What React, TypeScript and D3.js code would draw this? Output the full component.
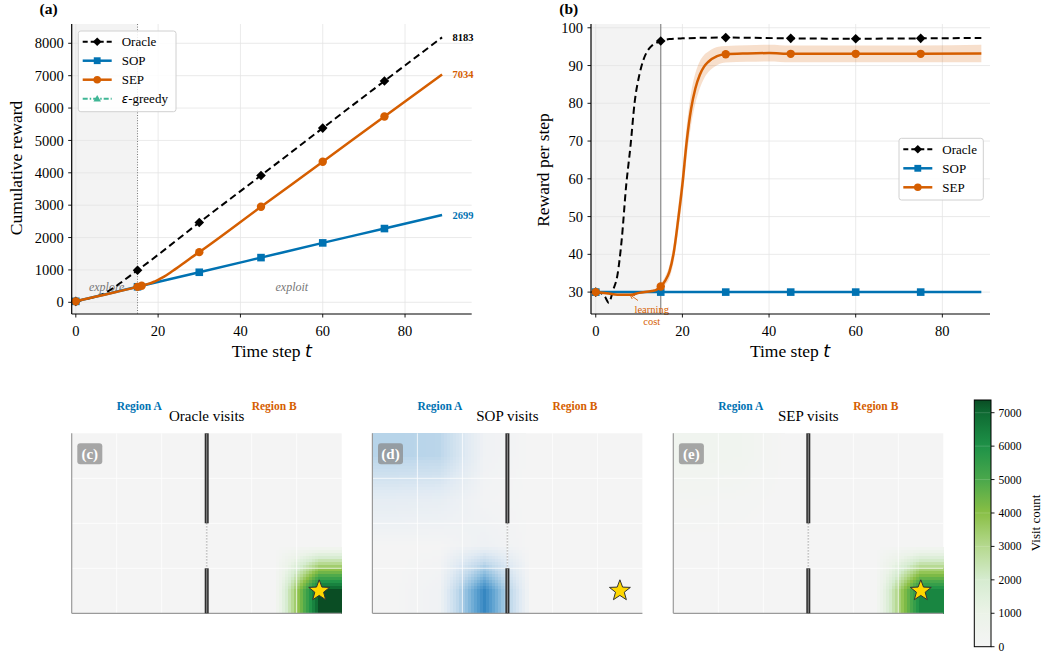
import React from 'react';
import * as d3 from 'd3';

const FONT = '"Liberation Serif", "Times New Roman", Times, serif';
const C_ORACLE = '#000000';
const C_SOP = '#0072B2';
const C_SEP = '#D55E00';
const C_EPS = '#009E73';

// ---------- Panel (a): cumulative reward ----------
const oracleCumT = [0, 1, 2, 3, 4, 5, 6, 7, 8, 9, 10, 11, 12, 13, 14, 15, 30, 45, 60, 75, 89];
const oracleCumV = [30, 59, 87, 114, 145, 180, 224, 282, 351, 434, 521, 613, 707, 802, 898, 990, 2464, 3918, 5381, 6835, 8183];
const sopCumT = [0, 15, 30, 45, 60, 75, 89];
const sopCumV = [30, 480, 928, 1381, 1835, 2278, 2699];
const sepCumT = [0, 5, 10, 15, 16, 17, 18, 19, 20, 21, 22, 23, 24, 25, 26, 28, 30, 45, 60, 75, 89];
const sepCumV = [30, 178, 325, 478, 511, 546, 586, 635, 690, 760, 838, 922, 1010, 1099, 1190, 1375, 1550, 2950, 4340, 5740, 7034];
const markT = [0, 15, 30, 45, 60, 75];
const sepMarkTA = [0, 15, 16, 30, 45, 60, 75];
const aYTicks = [0, 1000, 2000, 3000, 4000, 5000, 6000, 7000, 8000];
const xTicks = [0, 20, 40, 60, 80];
const finalLabels = [
  { text: '8183', v: 8183, color: C_ORACLE },
  { text: '7034', v: 7034, color: C_SEP },
  { text: '2699', v: 2699, color: C_SOP },
];

// ---------- Panel (b): reward per step ----------
const oracleStepT = [0, 1, 2, 3, 4, 5, 6, 7, 8, 9, 10, 11, 12, 13, 14, 15, 17, 20, 30, 45, 60, 75, 89];
const oracleStepV = [30, 29.8, 29, 27.2, 30.5, 34.5, 44, 58, 68.5, 80.5, 87.2, 91.5, 94, 95.3, 96, 96.5, 97, 97.2, 97.4, 97.2, 97.1, 97.2, 97.3];
const sopStepT = [0, 15, 30, 45, 60, 75, 89];
const sopStepV = [30, 30, 30, 30, 30, 30, 30];
const sepStepT = [0, 3, 5, 8, 10, 13, 14, 15, 16, 17, 18, 19, 20, 21, 22, 23, 24, 25, 26, 28, 30, 35, 40, 45, 60, 75, 89];
const sepStepV = [30, 29.6, 29.3, 29.3, 29.8, 30.3, 30.6, 31.5, 33, 35.4, 40.5, 49, 58.5, 70, 78.5, 84, 87.5, 89.7, 91, 92.5, 93, 93.2, 93.3, 93.1, 93.1, 93.1, 93.2];
const sepStepSd = [0.3, 0.3, 0.3, 0.3, 0.3, 0.3, 0.4, 0.7, 1.1, 1.7, 2.4, 3.3, 3.8, 4.2, 4.3, 4, 3.6, 3.1, 2.7, 2.4, 2.2, 2.2, 2.2, 2.2, 2.2, 2.2, 2.3];
const bYTicks = [30, 40, 50, 60, 70, 80, 90, 100];

// ---------- Heatmaps (6 x 4 grid of visit counts) ----------
const oracleVisits = [
  [0, 0, 0, 0, 0, 0],
  [0, 0, 0, 0, 0, 0],
  [0, 0, 0, 0, 0, 0],
  [0, 0, 0, 0, 0, 7380],
];
const sopVisits = [
  [2500, 2400, 250, 0, 0, 0],
  [800, 700, 100, 0, 0, 0],
  [0, 0, 350, 0, 0, 0],
  [0, 250, 5400, 0, 0, 0],
];
const sepVisits = [
  [450, 400, 0, 0, 0, 0],
  [150, 100, 0, 0, 0, 0],
  [0, 0, 0, 0, 0, 0],
  [0, 0, 0, 0, 0, 6300],
];
const cbTicks = [0, 1000, 2000, 3000, 4000, 5000, 6000, 7000];
const VMAX = 7380;

const greenStops = [
  [0, '#f4f4f4'], [0.1355, '#ebf3e8'], [0.271, '#d6ecd0'], [0.4065, '#b5d98f'],
  [0.542, '#8abf45'], [0.6775, '#4aa84b'], [0.813, '#1e9248'], [0.9485, '#0e6a32'], [1, '#0a4d24'],
];
const blueStops = [
  [0, '#f4f4f4'], [0.15, '#e0eaf3'], [0.3, '#c3daec'], [0.45, '#93c1e0'],
  [0.6, '#5ea2d1'], [0.75, '#3183bf'], [1, '#0b4a8a'],
];
const makeCmap = (stops: any[]) =>
  d3.scaleLinear<string>()
    .domain(stops.map((s) => s[0] * VMAX))
    .range(stops.map((s) => s[1]))
    .interpolate(d3.interpolateRgb)
    .clamp(true);
const greens = makeCmap(greenStops);
const blues = makeCmap(blueStops);

// ---------- scales ----------
const xA = d3.scaleLinear().domain([-1, 96.2]).range([71.7, 471.7]);
const yA = d3.scaleLinear().domain([-361, 8596]).range([314, 24]);
const xB = d3.scaleLinear().domain([-1.1, 91]).range([591, 990]);
const yB = d3.scaleLinear().domain([24.2, 101]).range([314, 24]);

const diamond = (cx: number, cy: number, r: number) =>
  `M${cx},${cy - r}L${cx + r},${cy}L${cx},${cy + r}L${cx - r},${cy}Z`;

function Marker({ kind, x, y, color, s = 1 }: any) {
  if (kind === 'diamond') return <path d={diamond(x, y, 4.8 * s)} fill={color} />;
  if (kind === 'square') return <rect x={x - 3.8 * s} y={y - 3.8 * s} width={7.6 * s} height={7.6 * s} fill={color} />;
  if (kind === 'circle') return <circle cx={x} cy={y} r={4.2 * s} fill={color} />;
  const r = 4.2 * s;
  return <path d={`M${x},${y - r}L${x + r},${y + r * 0.75}L${x - r},${y + r * 0.75}Z`} fill={color} />;
}

function Series({ T, V, xs, ys, color, dash, width, marker, mT }: any) {
  const pts = T.map((t: number, i: number) => [t, V[i]]);
  const line = d3.line<number[]>().x((d) => xs(d[0])).y((d) => ys(d[1])).curve(d3.curveMonotoneX);
  return (
    <g>
      <path d={line(pts) || ''} fill="none" stroke={color} strokeWidth={width} strokeDasharray={dash} />
      {mT.map((t: number) => {
        const i = T.indexOf(t);
        return <Marker key={t} kind={marker} x={xs(t)} y={ys(V[i])} color={color} />;
      })}
    </g>
  );
}

function Grid({ xs, ys, yTicks, left, right, top, bottom }: any) {
  return (
    <g>
      {xTicks.map((t: number) => (
        <line key={'gx' + t} x1={xs(t)} x2={xs(t)} y1={top} y2={bottom} stroke="#e4e4e4" strokeWidth={0.8} />
      ))}
      {yTicks.map((t: number) => (
        <line key={'gy' + t} x1={left} x2={right} y1={ys(t)} y2={ys(t)} stroke="#e4e4e4" strokeWidth={0.8} />
      ))}
    </g>
  );
}

function AxisFrame({ xs, ys, yTicks, left, right, top, bottom }: any) {
  return (
    <g fontFamily={FONT} fontSize={14.5}>
      <line x1={left} x2={left} y1={top} y2={bottom} stroke="#000" strokeWidth={1.2} />
      <line x1={left} x2={right} y1={bottom} y2={bottom} stroke="#000" strokeWidth={1.2} />
      {xTicks.map((t: number) => (
        <g key={'x' + t}>
          <line x1={xs(t)} x2={xs(t)} y1={bottom} y2={bottom + 3.5} stroke="#000" strokeWidth={0.9} />
          <text x={xs(t)} y={bottom + 22} textAnchor="middle">{t}</text>
        </g>
      ))}
      {yTicks.map((t: number) => (
        <g key={'y' + t}>
          <line x1={left - 3.5} x2={left} y1={ys(t)} y2={ys(t)} stroke="#000" strokeWidth={0.9} />
          <text x={left - 8} y={ys(t)} dy="0.35em" textAnchor="end">{t}</text>
        </g>
      ))}
    </g>
  );
}

function Heat({ x0, data, cmap, title, label }: any) {
  const nx = 6, ny = 4, cs = 45, y0 = 433.3;
  const W = nx * cs, H = ny * cs;
  const gx = d3.scaleLinear().domain([-0.5, nx - 0.5]).range([x0, x0 + W]);
  const gy = d3.scaleLinear().domain([-0.5, ny - 0.5]).range([y0, y0 + H]);
  const val = (cx: number, cy: number) => {
    const x = Math.max(0, Math.min(nx - 1, cx));
    const y = Math.max(0, Math.min(ny - 1, cy));
    const i0 = Math.floor(x), j0 = Math.floor(y);
    const i1 = Math.min(i0 + 1, nx - 1), j1 = Math.min(j0 + 1, ny - 1);
    const fx = x - i0, fy = y - j0;
    return data[j0][i0] * (1 - fx) * (1 - fy) + data[j0][i1] * fx * (1 - fy) +
      data[j1][i0] * (1 - fx) * fy + data[j1][i1] * fx * fy;
  };
  const step = 3;
  const rects: any[] = [];
  for (let py = 0; py < H; py += step) {
    for (let px = 0; px < W; px += step) {
      const v = val(gx.invert(x0 + px + step / 2), gy.invert(y0 + py + step / 2));
      if (v < 20) continue;
      rects.push(
        <rect key={px + '_' + py} x={x0 + px} y={y0 + py} width={step + 0.4} height={step + 0.4} fill={cmap(v)} />
      );
    }
  }
  const wx = gx(2.5);
  const starC = [gx(5), gy(3)];
  const starPts = d3.range(10).map((k) => {
    const r = k % 2 === 0 ? 11 : 4.6;
    const a = -Math.PI / 2 + (k * Math.PI) / 5;
    return [starC[0] + r * Math.cos(a), starC[1] + r * Math.sin(a)];
  });
  return (
    <g>
      <text x={x0 + W / 2} y={421} textAnchor="middle" fontFamily={FONT} fontSize={15}>{title}</text>
      <text x={x0 + W / 4} y={410} textAnchor="middle" fontFamily={FONT} fontSize={11.5} fontWeight="bold" fill={C_SOP}>Region A</text>
      <text x={x0 + (3 * W) / 4} y={410} textAnchor="middle" fontFamily={FONT} fontSize={11.5} fontWeight="bold" fill={C_SEP}>Region B</text>
      <rect x={x0} y={y0} width={W} height={H} fill={cmap(0)} />
      <g shapeRendering="crispEdges">{rects}</g>
      {d3.range(1, nx).map((i) => (
        <line key={'v' + i} x1={x0 + i * cs} x2={x0 + i * cs} y1={y0} y2={y0 + H} stroke="#fff" strokeOpacity={0.75} strokeWidth={1} />
      ))}
      {d3.range(1, ny).map((j) => (
        <line key={'h' + j} x1={x0} x2={x0 + W} y1={y0 + j * cs} y2={y0 + j * cs} stroke="#fff" strokeOpacity={0.75} strokeWidth={1} />
      ))}
      <line x1={x0} x2={x0} y1={y0} y2={y0 + H} stroke="#9a9a9a" strokeWidth={1.2} />
      <line x1={x0} x2={x0 + W} y1={y0 + H} y2={y0 + H} stroke="#9a9a9a" strokeWidth={1.2} />
      {/* wall */}
      <line x1={wx} x2={wx} y1={y0 + 2 * cs} y2={y0 + 3 * cs} stroke="#b5b5b5" strokeWidth={1.6} strokeDasharray="1.2,1.8" />
      {[[y0, y0 + 2 * cs], [y0 + 3 * cs, y0 + H]].map(([a, b], k) => (
        <g key={'w' + k}>
          <line x1={wx} x2={wx} y1={a} y2={b} stroke="#2e2e2e" strokeWidth={4} />
          <line x1={wx} x2={wx} y1={a + 0.5} y2={b - 0.5} stroke="#8a8a8a" strokeWidth={1} />
        </g>
      ))}
      <path d={'M' + starPts.map((p) => p.join(',')).join('L') + 'Z'} fill="#FFD700" stroke="#333" strokeWidth={1} />
      <rect x={x0 + 5.6} y={y0 + 10} width={25} height={21} rx={3} fill="#888" fillOpacity={0.72} />
      <text x={x0 + 18.1} y={y0 + 25.5} textAnchor="middle" fontFamily={FONT} fontSize={15} fontWeight="bold" fill="#fff">{label}</text>
    </g>
  );
}

export default function App() {
  const aL = 71.7, aR = 471.7, top = 24, bot = 314;
  const bL = 591, bR = 990;

  const band = d3.area<number>()
    .x((i) => xB(sepStepT[i]))
    .y0((i) => yB(sepStepV[i] - sepStepSd[i]))
    .y1((i) => yB(sepStepV[i] + sepStepSd[i]))
    .curve(d3.curveMonotoneX);

  const cbScale = d3.scaleLinear().domain([0, VMAX]).range([646.7, 400]);
  const cbStops = d3.range(0, 41).map((k) => k / 40);

  const legendA = [
    { name: 'Oracle', color: C_ORACLE, dash: '5,3', marker: 'diamond', w: 2 },
    { name: 'SOP', color: C_SOP, dash: undefined, marker: 'square', w: 2.5 },
    { name: 'SEP', color: C_SEP, dash: undefined, marker: 'circle', w: 2.5 },
    { name: 'eps', color: C_EPS, dash: '5,2,1.5,2', marker: 'tri', w: 2, op: 0.75 },
  ];

  return (
    <svg width={1043} height={653} style={{ position: 'absolute', left: 0, top: 0, background: '#fff' }}>
      <defs>
        <linearGradient id="cbg" x1="0" y1="1" x2="0" y2="0">
          {cbStops.map((f) => (
            <stop key={f} offset={f} stopColor={greens(f * VMAX)} />
          ))}
        </linearGradient>
        <marker id="arr" viewBox="0 0 8 8" refX="7.5" refY="4" markerWidth="6" markerHeight="6" orient="auto">
          <path d="M0,0.5L7.5,4L0,7.5" fill="none" stroke={C_SEP} strokeWidth={1.2} />
        </marker>
      </defs>

      {/* ================= Panel (a) ================= */}
      <rect x={aL} y={top} width={xA(15) - aL} height={bot - top} fill="#f3f3f3" />
      <Grid xs={xA} ys={yA} yTicks={aYTicks} left={aL} right={aR} top={top} bottom={bot} />
      <line x1={xA(15)} x2={xA(15)} y1={top} y2={bot} stroke="#555" strokeWidth={0.8} strokeDasharray="1,1.6" />
      <text x={xA(7.5)} y={yA(350)} textAnchor="middle" fontFamily={FONT} fontSize={12} fontStyle="italic" fill="#777">explore</text>
      <text x={xA(52.5)} y={yA(350)} textAnchor="middle" fontFamily={FONT} fontSize={12} fontStyle="italic" fill="#777">exploit</text>
      <Series T={oracleCumT} V={oracleCumV} xs={xA} ys={yA} color={C_ORACLE} dash="7,4" width={2} marker="diamond" mT={markT} />
      <Series T={sopCumT} V={sopCumV} xs={xA} ys={yA} color={C_SOP} width={2.5} marker="square" mT={markT} />
      <Series T={sepCumT} V={sepCumV} xs={xA} ys={yA} color={C_SEP} width={2.5} marker="circle" mT={sepMarkTA} />
      {finalLabels.map((l) => (
        <text key={l.text} x={xA(89) + 10.5} y={yA(l.v)} dy="0.35em" fontFamily={FONT} fontSize={10.5} fontWeight="bold" fill={l.color}>{l.text}</text>
      ))}
      <AxisFrame xs={xA} ys={yA} yTicks={aYTicks} left={aL} right={aR} top={top} bottom={bot} />
      <rect x={78.3} y={31} width={97.7} height={80.7} rx={2.5} fill="#fff" fillOpacity={0.85} stroke="#d0d0d0" strokeWidth={1} />
      {legendA.map((e, i) => {
        const y = 41.7 + i * 19;
        return (
          <g key={e.name} opacity={e.op || 1}>
            <line x1={82.7} x2={111.7} y1={y} y2={y} stroke={e.color} strokeWidth={e.w} strokeDasharray={e.dash} />
            <Marker kind={e.marker} x={97.2} y={y} color={e.color} s={0.9} />
          </g>
        );
      })}
      <g fontFamily={FONT} fontSize={13}>
        <text x={121.7} y={41.7} dy="0.33em">Oracle</text>
        <text x={121.7} y={60.7} dy="0.33em">SOP</text>
        <text x={121.7} y={79.7} dy="0.33em">SEP</text>
        <text x={121.7} y={98.7} dy="0.33em"><tspan fontFamily="DejaVu Sans" fontStyle="italic" fontSize={12}>ε</tspan>-greedy</text>
      </g>
      <text x={39.5} y={14} fontFamily={FONT} fontSize={15.5} fontWeight="bold">(a)</text>
      <text transform={`translate(22,168) rotate(-90)`} textAnchor="middle" fontFamily={FONT} fontSize={17.5}>Cumulative reward</text>
      <text x={271.7} y={357} textAnchor="middle" fontFamily={FONT} fontSize={17.5}>Time step <tspan fontFamily="DejaVu Sans" fontStyle="italic">t</tspan></text>

      {/* ================= Panel (b) ================= */}
      <rect x={bL} y={top} width={xB(15) - bL} height={bot - top} fill="#f3f3f3" />
      <Grid xs={xB} ys={yB} yTicks={bYTicks} left={bL} right={bR} top={top} bottom={bot} />
      <line x1={xB(15)} x2={xB(15)} y1={top} y2={bot} stroke="#888" strokeWidth={1.2} />
      <path d={band(d3.range(sepStepT.length)) || ''} fill={C_SEP} fillOpacity={0.2} />
      <Series T={oracleStepT} V={oracleStepV} xs={xB} ys={yB} color={C_ORACLE} dash="7,4" width={2} marker="diamond" mT={markT} />
      <Series T={sopStepT} V={sopStepV} xs={xB} ys={yB} color={C_SOP} width={2.5} marker="square" mT={markT} />
      <Series T={sepStepT} V={sepStepV} xs={xB} ys={yB} color={C_SEP} width={2.5} marker="circle" mT={markT} />
      <line x1={638} y1={300.5} x2={629.8} y2={294.6} stroke={C_SEP} strokeWidth={0.9} markerEnd="url(#arr)" />
      <text x={651.7} y={312.5} textAnchor="middle" fontFamily={FONT} fontSize={10.5} fill={C_SEP}>learning</text>
      <text x={651.7} y={324.5} textAnchor="middle" fontFamily={FONT} fontSize={10.5} fill={C_SEP}>cost</text>
      <AxisFrame xs={xB} ys={yB} yTicks={bYTicks} left={bL} right={bR} top={top} bottom={bot} />
      <rect x={899} y={138.3} width={84.3} height={61.7} rx={2.5} fill="#fff" fillOpacity={0.85} stroke="#d0d0d0" strokeWidth={1} />
      {legendA.slice(0, 3).map((e, i) => {
        const y = 149.3 + i * 19;
        return (
          <g key={e.name}>
            <line x1={903.3} x2={932.3} y1={y} y2={y} stroke={e.color} strokeWidth={e.w} strokeDasharray={e.dash} />
            <Marker kind={e.marker} x={917.8} y={y} color={e.color} s={0.9} />
            <text x={942.3} y={y} dy="0.33em" fontFamily={FONT} fontSize={13}>{e.name}</text>
          </g>
        );
      })}
      <text x={559.3} y={14} fontFamily={FONT} fontSize={15.5} fontWeight="bold">(b)</text>
      <text transform={`translate(549,170) rotate(-90)`} textAnchor="middle" fontFamily={FONT} fontSize={17.5}>Reward per step</text>
      <text x={790} y={357} textAnchor="middle" fontFamily={FONT} fontSize={17.5}>Time step <tspan fontFamily="DejaVu Sans" fontStyle="italic">t</tspan></text>

      {/* ================= Heatmaps ================= */}
      <Heat x0={71.7} data={oracleVisits} cmap={greens} title="Oracle visits" label="(c)" />
      <Heat x0={372.4} data={sopVisits} cmap={blues} title="SOP visits" label="(d)" />
      <Heat x0={673.3} data={sepVisits} cmap={greens} title="SEP visits" label="(e)" />

      {/* colorbar */}
      <rect x={974.3} y={400} width={16.7} height={246.7} fill="url(#cbg)" />
      {cbTicks.slice(1).map((t) => (
        <line key={'cg' + t} x1={974.3} x2={991} y1={cbScale(t)} y2={cbScale(t)} stroke="#fff" strokeOpacity={0.2} strokeWidth={0.8} />
      ))}
      <rect x={974.3} y={400} width={16.7} height={246.7} fill="none" stroke="#000" strokeWidth={1} />
      {cbTicks.map((t) => (
        <g key={'cb' + t}>
          <line x1={991} x2={994.5} y1={cbScale(t)} y2={cbScale(t)} stroke="#000" strokeWidth={0.9} />
          <text x={998.5} y={cbScale(t)} dy="0.35em" fontFamily={FONT} fontSize={11.5}>{t}</text>
        </g>
      ))}
      <text transform={`translate(1040,523) rotate(-90)`} textAnchor="middle" fontFamily={FONT} fontSize={13}>Visit count</text>
    </svg>
  );
}
